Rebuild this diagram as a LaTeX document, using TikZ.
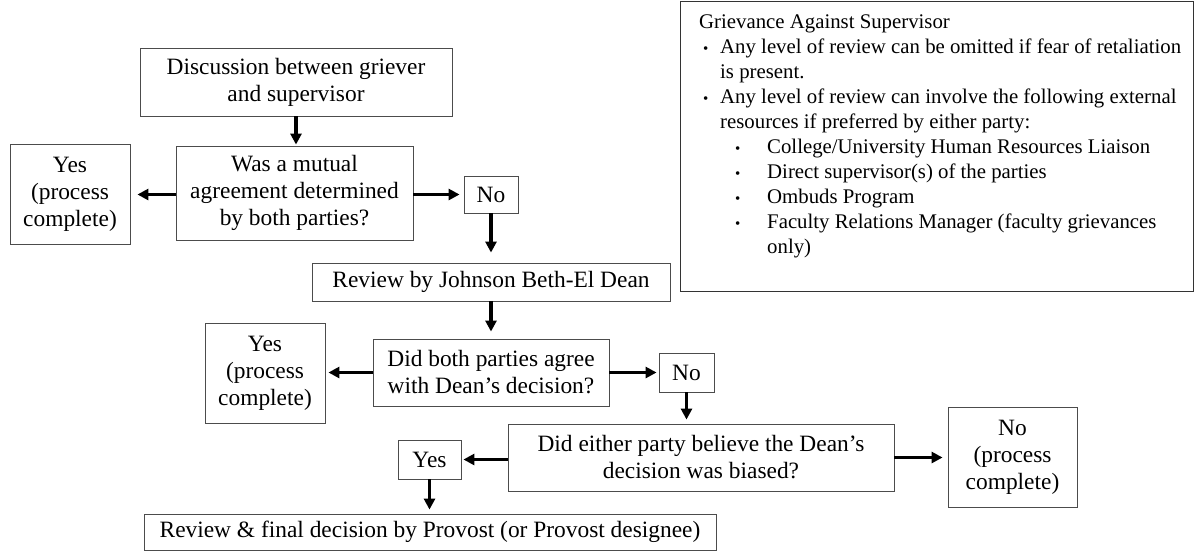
\documentclass[tikz,border=0pt]{standalone}
\usepackage{fontspec}
\setmainfont{Liberation Serif}
\usetikzlibrary{arrows.meta}
\begin{document}
\begin{tikzpicture}[x=1pt,y=-1pt,
  box/.style={draw=black!70, line width=0.9pt, inner sep=0pt, align=center,
    font=\fontsize{23.4}{27}\selectfont},
  arr/.style={line width=3.2pt, -{Triangle[length=11pt,width=11pt]}, shorten >=4pt},
  gline/.style={anchor=base west, inner sep=0pt, font=\fontsize{20.8}{25}\selectfont},
  gbul/.style={anchor=base west, inner sep=0pt, font=\fontsize{15}{25}\selectfont}]
\useasboundingbox (0,0) rectangle (1194,552);
% flow boxes
\node[box, minimum width=312pt, minimum height=68pt] (disc) at (296,82) {Discussion between griever\\and supervisor};
\node[box, minimum width=237pt, minimum height=94pt] (q1) at (294.5,193) {Was a mutual\\agreement determined\\by both parties?};
\node[box, minimum width=120pt, minimum height=100pt] (yes1) at (70,194) {Yes\\(process\\complete)};
\node[box, minimum width=54pt, minimum height=37pt] (no1) at (491,194.5) {No};
\node[box, minimum width=358pt, minimum height=38pt] (rev) at (491,282) {Review by Johnson Beth-El Dean};
\node[box, minimum width=236pt, minimum height=67pt] (q2) at (491,372.5) {Did both parties agree\\with Dean’s decision?};
\node[box, minimum width=120pt, minimum height=100pt] (yes2) at (265,373) {Yes\\(process\\complete)};
\node[box, minimum width=55pt, minimum height=39pt] (no2) at (686.5,372.5) {No};
\node[box, minimum width=386pt, minimum height=67pt] (q3) at (701,457.5) {Did either party believe the Dean’s\\decision was biased?};
\node[box, minimum width=63pt, minimum height=39pt] (yes3) at (429.5,459.5) {Yes};
\node[box, minimum width=129pt, minimum height=100pt] (no3) at (1012.5,457) {No\\(process\\complete)};
\node[box, minimum width=572pt, minimum height=36pt] (prov) at (430,532) {Review \& final decision by Provost (or Provost designee)};
% connectors
\draw[arr, shorten >=1pt] (disc.south) -- (disc.south |- q1.north);
\draw[arr, shorten >=7pt] (q1.west |- no1.center) -- (yes1.east |- no1.center);
\draw[arr] (q1.east |- no1.center) -- (no1.west);
\draw[arr, shorten >=10pt] (no1.south) -- (rev.north);
\draw[arr, shorten >=7pt] (rev.south) -- (q2.north);
\draw[arr, shorten >=3pt] (q2.west) -- (yes2.east |- q2.west);
\draw[arr, shorten >=2pt] (q2.east) -- (no2.west);
\draw[arr] (no2.south) -- (no2.south |- q3.north);
\draw[arr, shorten >=2pt] (q3.west |- yes3.center) -- (yes3.east);
\draw[arr, shorten >=5pt] (q3.east) -- (no3.west |- q3.east);
\draw[arr] (yes3.south) -- (yes3.south |- prov.north);
% grievance box
\node[draw=black!80, line width=0.9pt, inner sep=0pt, anchor=north west, minimum width=513pt, minimum height=290pt] (g) at (680,1) {};
\node[gline] (g0) at (699,28) {Grievance Against Supervisor};
\node[gbul] (b1) at (703,53) {•};
\node[gline] (g1) at (720,53) {Any level of review can be omitted if fear of retaliation};
\node[gline] (g2) at (720,78) {is present.};
\node[gbul] (b3) at (703,103) {•};
\node[gline] (g3) at (720,103) {Any level of review can involve the following external};
\node[gline] (g4) at (720,128) {resources if preferred by either party:};
\node[gbul] (b5) at (735,153) {•};
\node[gline] (g5) at (767,153) {College/University Human Resources Liaison};
\node[gbul] (b6) at (735,178) {•};
\node[gline] (g6) at (767,178) {Direct supervisor(s) of the parties};
\node[gbul] (b7) at (735,203) {•};
\node[gline] (g7) at (767,203) {Ombuds Program};
\node[gbul] (b8) at (735,228) {•};
\node[gline] (g8) at (767,228) {Faculty Relations Manager (faculty grievances};
\node[gline] (g9) at (767,253) {only)};
\end{tikzpicture}
\end{document}
